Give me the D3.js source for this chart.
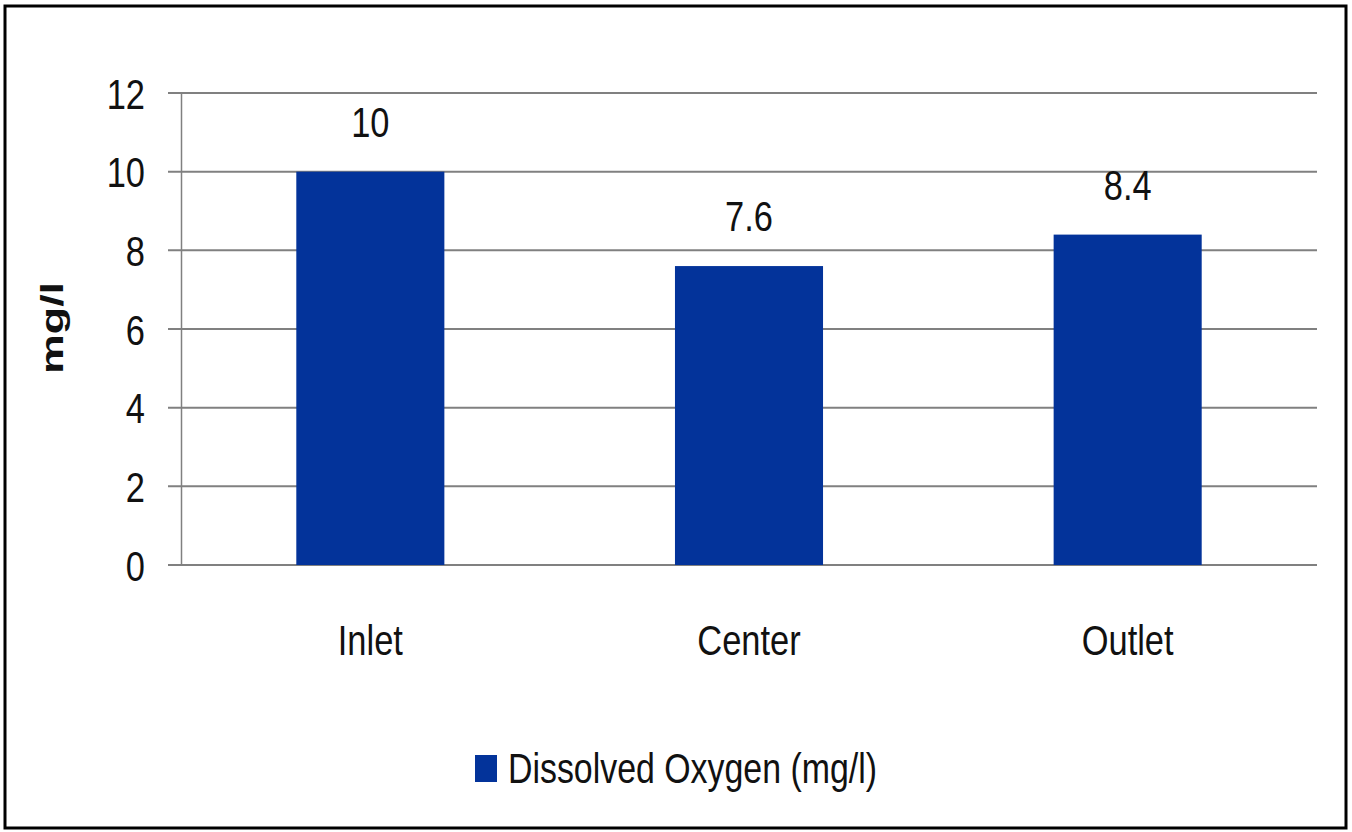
<!DOCTYPE html>
<html>
<head>
<meta charset="utf-8">
<script src="https://cdn.jsdelivr.net/npm/d3@7"></script>
<style>
  html, body { margin: 0; padding: 0; background: #fff; }
  svg { display: block; }
  text { font-family: "Liberation Sans", Arial, sans-serif; fill: #111; }
</style>
</head>
<body>
<svg id="chart" width="1352" height="832"></svg>
<script>
const categories = ["Inlet", "Center", "Outlet"];
const dissolvedOxygen = [10, 7.6, 8.4];
const valueLabels = ["10", "7.6", "8.4"];
const yTicks = [0, 2, 4, 6, 8, 10, 12];
const seriesName = "Dissolved Oxygen (mg/l)";
const yTitle = "mg/l";

(function () {
const svg = d3.select("#chart");
const W = 1352, H = 832;
const pLeft = 181, pRight = 1317, pTop = 93, pBottom = 565;
const sx = 0.82;          // horizontal condensation of text
const fs = 42;
const barColor = "#03339a";
const gridColor = "#808080";

svg.append("rect").attr("width", W).attr("height", H).attr("fill", "#fff");
svg.append("rect")
  .attr("x", 5).attr("y", 6).attr("width", 1341).attr("height", 822)
  .attr("fill", "none").attr("stroke", "#000").attr("stroke-width", 3);

const y = d3.scaleLinear().domain([0, 12]).range([pBottom, pTop]);
const x = d3.scaleBand().domain(categories).range([pLeft, pRight])
  .paddingInner(0.609).paddingOuter(0.3045);

// gridlines (including outer tick part)
svg.append("g").selectAll("line").data(yTicks).join("line")
  .attr("x1", pLeft - 13).attr("x2", pRight)
  .attr("y1", d => y(d)).attr("y2", d => y(d))
  .attr("stroke", gridColor).attr("stroke-width", 2);

// bars
svg.append("g").selectAll("rect").data(dissolvedOxygen).join("rect")
  .attr("x", (d, i) => x(categories[i]))
  .attr("width", x.bandwidth())
  .attr("y", d => y(d))
  .attr("height", d => y(0) - y(d))
  .attr("fill", barColor);

// y axis
const yAxis = svg.append("g").attr("transform", `translate(${pLeft},0)`)
  .call(d3.axisLeft(y).tickValues(yTicks).tickSize(0).tickPadding(36).tickFormat(d3.format("d")));
yAxis.select(".domain").attr("stroke", gridColor).attr("stroke-width", 1.5);
yAxis.attr("font-family", null).attr("font-size", null);
yAxis.selectAll(".tick text")
  .attr("font-size", fs).attr("fill", "#111")
  .attr("x", -36 / sx).attr("dy", "0.36em")
  .attr("transform", `scale(${sx},1)`);

// x axis labels
const xAxis = svg.append("g").attr("transform", `translate(0,${pBottom})`)
  .call(d3.axisBottom(x).tickSize(0).tickPadding(60));
xAxis.select(".domain").remove();
xAxis.attr("font-family", null).attr("font-size", null);
xAxis.selectAll(".tick text")
  .attr("font-size", fs).attr("fill", "#111")
  .attr("transform", `scale(${sx},1)`);

// value labels
svg.append("g").selectAll("text").data(dissolvedOxygen).join("text")
  .attr("transform", (d, i) => `translate(${x(categories[i]) + x.bandwidth() / 2},${y(d) - 35}) scale(${sx},1)`)
  .attr("text-anchor", "middle")
  .attr("font-size", fs)
  .text((d, i) => valueLabels[i]);

// y title
svg.append("text")
  .attr("transform", `translate(63,328) rotate(-90) scale(1.4,1)`)
  .attr("text-anchor", "middle")
  .attr("font-size", 32).attr("font-weight", "bold")
  .text(yTitle);

// legend
const lg = svg.append("g");
lg.append("rect").attr("x", 475).attr("y", 755).attr("width", 22).attr("height", 27).attr("fill", barColor);
lg.append("text")
  .attr("x", 508).attr("y", 783)
  .attr("font-size", fs)
  .attr("textLength", 369).attr("lengthAdjust", "spacingAndGlyphs")
  .text(seriesName);
})();
</script>
</body>
</html>
